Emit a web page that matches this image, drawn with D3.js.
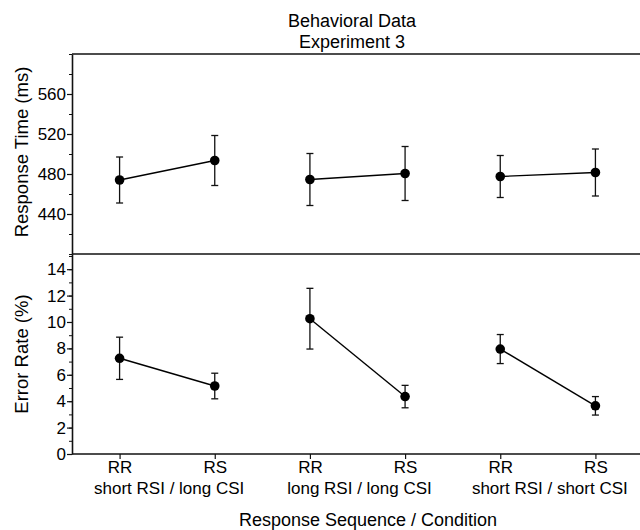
<!DOCTYPE html>
<html>
<head>
<meta charset="utf-8">
<script src="https://cdn.jsdelivr.net/npm/d3@7"></script>
<style>
  body { margin: 0; background: #fff; }
  text { font-family: "Liberation Sans", Arial, sans-serif; fill: #000; }
</style>
</head>
<body>
<script>
// values
const conditions = ["short RSI / long CSI", "long RSI / long CSI", "short RSI / short CSI"];
const sequences = ["RR", "RS"];
const rtMean = [474, 493.5, 474.5, 480.5, 477.5, 481.5];
const rtErr = [23, 25, 26, 27, 21, 23.5];
const erMean = [7.25, 5.15, 10.25, 4.35, 7.95, 3.65];
const erErr = [1.6, 0.97, 2.3, 0.85, 1.1, 0.7];
const rtTicks = [440, 480, 520, 560];
const erTicks = [0, 2, 4, 6, 8, 10, 12, 14];

function main() {
    let width = 640, height = 530;
    let left = 72, right = 643;

    let svg = d3.select("body").append("svg")
        .attr("width", width)
        .attr("height", height);

    // one slot per sequence within each condition
    let slots = [];
    conditions.forEach((c, ci) => sequences.forEach((s, si) => slots.push(ci * 2 + si)));

    let x = d3.scalePoint().domain(slots).range([left, right]).padding(0.5);

    let yTop = d3.scaleLinear().domain([400, 600]).range([254, 54]);
    let yBot = d3.scaleLinear().domain([0, 15.15]).range([454, 254]);

    // title
    svg.append("text").attr("x", 352).attr("y", 27).attr("text-anchor", "middle")
        .attr("font-size", 18).text("Behavioral Data");
    svg.append("text").attr("x", 352).attr("y", 48).attr("text-anchor", "middle")
        .attr("font-size", 18).text("Experiment 3");

    // horizontal frame lines
    [54, 254, 454].forEach(yy => {
        svg.append("line")
            .attr("x1", left).attr("x2", width)
            .attr("y1", yy).attr("y2", yy)
            .attr("stroke", "#111").attr("stroke-width", 1.6);
    });

    function panel(y, major, minor, mean, err, label, labelY) {
        let g = svg.append("g").attr("transform", "translate(" + left + ",0)");

        g.append("g")
            .call(d3.axisLeft(y).tickValues(minor).tickSize(3).tickFormat("").tickSizeOuter(0))
            .call(a => a.select(".domain").remove())
            .selectAll("line").attr("stroke", "#111");

        g.append("g")
            .call(d3.axisLeft(y).tickValues(major).tickSize(5).tickSizeOuter(0).tickPadding(1))
            .call(a => a.select(".domain").attr("stroke", "#111").attr("stroke-width", 1.6))
            .call(a => a.selectAll("line").attr("stroke", "#111").attr("stroke-width", 1.2))
            .selectAll("text")
            .attr("font-size", 17)
            .attr("font-family", "Liberation Sans, Arial, sans-serif")
            .attr("fill", "#000");

        svg.append("text")
            .attr("transform", "translate(28," + labelY + ") rotate(-90)")
            .attr("text-anchor", "middle")
            .attr("font-size", 18.5)
            .text(label);

        let pts = slots.map(i => ({ i: i, m: mean[i], e: err[i] }));

        // connecting lines within each condition
        conditions.forEach((c, ci) => {
            let pair = pts.slice(ci * 2, ci * 2 + 2);
            svg.append("path")
                .datum(pair)
                .attr("fill", "none")
                .attr("stroke", "#000")
                .attr("stroke-width", 1.4)
                .attr("d", d3.line().x(d => x(d.i)).y(d => y(d.m)));
        });

        let eb = svg.append("g").attr("stroke", "#111").attr("stroke-width", 1.3);
        eb.selectAll(".v").data(pts).enter().append("line")
            .attr("x1", d => x(d.i)).attr("x2", d => x(d.i))
            .attr("y1", d => y(d.m - d.e)).attr("y2", d => y(d.m + d.e));
        eb.selectAll(".t").data(pts).enter().append("line")
            .attr("x1", d => x(d.i) - 3.5).attr("x2", d => x(d.i) + 3.5)
            .attr("y1", d => y(d.m + d.e)).attr("y2", d => y(d.m + d.e));
        eb.selectAll(".b").data(pts).enter().append("line")
            .attr("x1", d => x(d.i) - 3.5).attr("x2", d => x(d.i) + 3.5)
            .attr("y1", d => y(d.m - d.e)).attr("y2", d => y(d.m - d.e));

        svg.append("g").selectAll("circle").data(pts).enter().append("circle")
            .attr("cx", d => x(d.i))
            .attr("cy", d => y(d.m))
            .attr("r", 4.8)
            .attr("fill", "#000");
    }

    panel(yTop, rtTicks, d3.range(400, 601, 20), rtMean, rtErr, "Response Time (ms)", 152);
    panel(yBot, erTicks, d3.range(0, 16, 1), erMean, erErr, "Error Rate (%)", 354);

    // bottom axis
    let xa = svg.append("g").attr("transform", "translate(0,454)")
        .call(d3.axisBottom(x).tickSize(5).tickSizeOuter(0).tickFormat(i => sequences[i % 2]).tickPadding(2));
    xa.select(".domain").remove();
    xa.selectAll("line").attr("stroke", "#111").attr("stroke-width", 1.2);
    xa.selectAll("text")
        .attr("font-size", 17)
        .attr("font-family", "Liberation Sans, Arial, sans-serif")
        .attr("fill", "#000");

    svg.append("g").selectAll("text").data(conditions).enter().append("text")
        .attr("x", (d, ci) => (x(ci * 2) + x(ci * 2 + 1)) / 2 + 2)
        .attr("y", 494)
        .attr("text-anchor", "middle")
        .attr("font-size", 17)
        .text(d => d);

    svg.append("text")
        .attr("x", 368).attr("y", 526)
        .attr("text-anchor", "middle")
        .attr("font-size", 18)
        .text("Response Sequence / Condition");
}

main();
</script>
</body>
</html>
